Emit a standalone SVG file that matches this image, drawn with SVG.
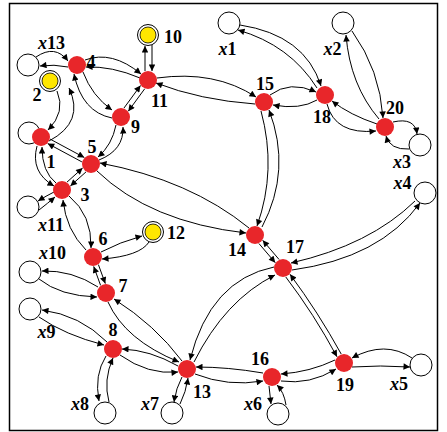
<svg xmlns="http://www.w3.org/2000/svg" width="447" height="432" viewBox="0 0 447 432">
<style>
.e{fill:none;stroke:#000;stroke-width:1;marker-end:url(#a)}
.r{fill:#e8262a}
.w{fill:#fff;stroke:#000;stroke-width:1}
.yo{fill:#fff;stroke:#000;stroke-width:1}
.yi{fill:#ffe600;stroke:#000;stroke-width:0.8}
text{font-family:"Liberation Serif","Times New Roman",serif;font-weight:bold;font-size:18px;text-anchor:middle;fill:#000}
.i{font-style:italic}
</style>
<defs>
<marker id="a" viewBox="0 0 10 10" refX="10" refY="5" markerWidth="8" markerHeight="6.5" orient="auto" markerUnits="userSpaceOnUse">
<path d="M0,0 L10,5 L0,10 z" fill="#000"/>
</marker>
</defs>
<rect x="9.5" y="3.5" width="428" height="427" fill="#fff" stroke="#000" stroke-width="1.5"/>
<g id="connectors">
<path class="e" d="M36,57 Q55,44 68,61"/>
<path class="e" d="M68,67 Q54,64 40,66"/>
<path class="e" d="M85,60 Q112,50 141,74"/>
<path class="e" d="M140,78 Q112,66 86,67"/>
<path class="e" d="M145,71 L145,46"/>
<path class="e" d="M152,45 L152,71"/>
<path class="e" d="M83,72 Q92,96 112,110"/>
<path class="e" d="M112,118 Q82,112 74,74"/>
<path class="e" d="M124,108 L140.5,85.5"/>
<path class="e" d="M144.7,88.8 L128.3,111.2"/>
<path class="e" d="M57,91 Q66,112 48,130"/>
<path class="e" d="M49,141 Q85,122 69,88"/>
<path class="e" d="M50.1,139.1 L84.3,157.5"/>
<path class="e" d="M81.9,161.9 L47.7,143.5"/>
<path class="e" d="M116,125 Q112,145 98,157"/>
<path class="e" d="M99,160 Q124,150 123,127"/>
<path class="e" d="M67,182.1 L82.6,168.1"/>
<path class="e" d="M86,171.9 L70.4,185.9"/>
<path class="e" d="M37,146 Q30,172 54,186"/>
<path class="e" d="M56,183 Q42,172 42,147"/>
<path class="e" d="M54,192 Q46,196 38,201"/>
<path class="e" d="M39,210 Q48,203 55,197"/>
<path class="e" d="M69,196 Q92,215 91,248"/>
<path class="e" d="M86,250 Q66,230 63,200"/>
<path class="e" d="M249,228 Q190,180 100,163"/>
<path class="e" d="M97,171 Q150,222 246,233"/>
<path class="e" d="M101,252 Q120,242 142,236"/>
<path class="e" d="M149,242 Q140,256 102,259"/>
<path class="e" d="M98.4,264.6 L105.3,283.6"/>
<path class="e" d="M100.6,285.4 L93.7,266.4"/>
<path class="e" d="M98,287 Q72,270 42,271"/>
<path class="e" d="M39,279 Q60,296 97,297"/>
<path class="e" d="M108,302 Q125,340 179,362"/>
<path class="e" d="M182,361 Q155,325 114,299"/>
<path class="e" d="M107,342 Q80,315 42,310"/>
<path class="e" d="M39,317 Q65,335 104,345"/>
<path class="e" d="M178,366 Q150,350 122,349"/>
<path class="e" d="M120,355 Q148,375 178,372"/>
<path class="e" d="M106,356 Q94,375 99,401"/>
<path class="e" d="M109,402 Q103,380 113,358"/>
<path class="e" d="M182,377 Q176,388 174,402"/>
<path class="e" d="M180,404 Q186,392 188,378"/>
<path class="e" d="M274,267 Q210,280 190,360"/>
<path class="e" d="M194,362 Q225,300 275,275"/>
<path class="e" d="M263,373 Q228,367 196,367"/>
<path class="e" d="M195,374 Q228,387 263,381"/>
<path class="e" d="M335,360 Q310,372 281,374"/>
<path class="e" d="M281,381 Q310,385 336,369"/>
<path class="e" d="M269,386 L271,404"/>
<path class="e" d="M286,405 Q284,392 277,385"/>
<path class="e" d="M412,358 Q385,340 352,358"/>
<path class="e" d="M352,367 Q380,365 410,367"/>
<path class="e" d="M285.8,277 Q314,314 337,356.8"/>
<path class="e" d="M341.2,354 Q318,312 290,274.3"/>
<path class="e" d="M258.9,243.5 L275.3,262.7"/>
<path class="e" d="M279.1,259.5 L262.7,240.3"/>
<path class="e" d="M415,201 Q370,245 291,263"/>
<path class="e" d="M292,270 Q380,258 420,203"/>
<path class="e" d="M261,111 Q277,170 257,226"/>
<path class="e" d="M262,227 Q292,170 269,110"/>
<path class="e" d="M157,78 Q215,70 256,97"/>
<path class="e" d="M255,104 Q200,100 156,83"/>
<path class="e" d="M270,95 Q290,80 316,92"/>
<path class="e" d="M317,100 Q300,110 273,105"/>
<path class="e" d="M240,25 Q305,35 321,86"/>
<path class="e" d="M317,88 Q290,45 238,30"/>
<path class="e" d="M377,124 Q350,115 332,101"/>
<path class="e" d="M327,104 Q335,135 376,131"/>
<path class="e" d="M379,119 Q350,85 346,35"/>
<path class="e" d="M352,31 Q380,70 383,118"/>
<path class="e" d="M393,122 Q415,117 417,134"/>
<path class="e" d="M409,149 Q390,150 386,136"/>
</g>
<g id="n_x13"><circle class="w" cx="28" cy="65" r="11"/><text x="51.5" y="49"><tspan class="i">x</tspan>13</text></g>
<g id="n_x0"><circle class="w" cx="29" cy="133" r="11"/></g>
<g id="n_x11"><circle class="w" cx="28" cy="207" r="11"/><text x="51" y="231"><tspan class="i">x</tspan>11</text></g>
<g id="n_x10"><circle class="w" cx="30" cy="272" r="11"/><text x="52.5" y="259"><tspan class="i">x</tspan>10</text></g>
<g id="n_x9"><circle class="w" cx="30" cy="309" r="11"/><text x="46.5" y="338"><tspan class="i">x</tspan>9</text></g>
<g id="n_x8"><circle class="w" cx="105" cy="413" r="11"/><text x="80" y="410"><tspan class="i">x</tspan>8</text></g>
<g id="n_x7"><circle class="w" cx="172" cy="413" r="11"/><text x="150" y="410"><tspan class="i">x</tspan>7</text></g>
<g id="n_x6"><circle class="w" cx="278" cy="414" r="11"/><text x="253" y="410"><tspan class="i">x</tspan>6</text></g>
<g id="n_x5"><circle class="w" cx="421" cy="365" r="11"/><text x="399" y="390"><tspan class="i">x</tspan>5</text></g>
<g id="n_x4"><circle class="w" cx="425" cy="193" r="11"/><text x="402.5" y="189"><tspan class="i">x</tspan>4</text></g>
<g id="n_x3"><circle class="w" cx="420" cy="145" r="11"/><text x="402" y="168"><tspan class="i">x</tspan>3</text></g>
<g id="n_x2"><circle class="w" cx="343" cy="23" r="11"/><text x="332.5" y="55"><tspan class="i">x</tspan>2</text></g>
<g id="n_x1"><circle class="w" cx="229" cy="23" r="11"/><text x="227.5" y="55"><tspan class="i">x</tspan>1</text></g>
<g id="n10"><circle class="yo" cx="148" cy="35" r="10.5"/><circle class="yi" cx="148" cy="35" r="8"/><text x="173" y="43">10</text></g>
<g id="n2"><circle class="yo" cx="50" cy="81" r="10.5"/><circle class="yi" cx="50" cy="81" r="8"/><text x="37" y="101">2</text></g>
<g id="n12"><circle class="yo" cx="153" cy="232" r="10.5"/><circle class="yi" cx="153" cy="232" r="8"/><text x="176" y="239">12</text></g>
<g id="n4"><circle class="r" cx="77" cy="65" r="9"/><text x="91" y="68">4</text></g>
<g id="n11"><circle class="r" cx="148" cy="80" r="9"/><text x="159.5" y="107">11</text></g>
<g id="n9"><circle class="r" cx="121" cy="117" r="9"/><text x="135.5" y="133">9</text></g>
<g id="n1"><circle class="r" cx="41" cy="137" r="9"/><text x="51" y="168">1</text></g>
<g id="n5"><circle class="r" cx="91" cy="164" r="9"/><text x="92" y="153">5</text></g>
<g id="n3"><circle class="r" cx="62" cy="190" r="9"/><text x="85" y="201">3</text></g>
<g id="n6"><circle class="r" cx="93" cy="257" r="9"/><text x="103" y="245">6</text></g>
<g id="n7"><circle class="r" cx="106" cy="293" r="9"/><text x="123" y="292">7</text></g>
<g id="n8"><circle class="r" cx="113" cy="349" r="9"/><text x="113" y="336">8</text></g>
<g id="n13"><circle class="r" cx="187" cy="369" r="9"/><text x="202" y="398">13</text></g>
<g id="n14"><circle class="r" cx="255" cy="235" r="9"/><text x="237" y="256">14</text></g>
<g id="n17"><circle class="r" cx="283" cy="268" r="9"/><text x="295" y="253">17</text></g>
<g id="n16"><circle class="r" cx="272" cy="377" r="9"/><text x="260" y="365">16</text></g>
<g id="n19"><circle class="r" cx="344" cy="363" r="9"/><text x="345" y="391">19</text></g>
<g id="n15"><circle class="r" cx="264" cy="102" r="9"/><text x="265" y="90">15</text></g>
<g id="n18"><circle class="r" cx="325" cy="95" r="9"/><text x="322" y="123">18</text></g>
<g id="n20"><circle class="r" cx="385" cy="127" r="9"/><text x="395" y="114">20</text></g>
</svg>
